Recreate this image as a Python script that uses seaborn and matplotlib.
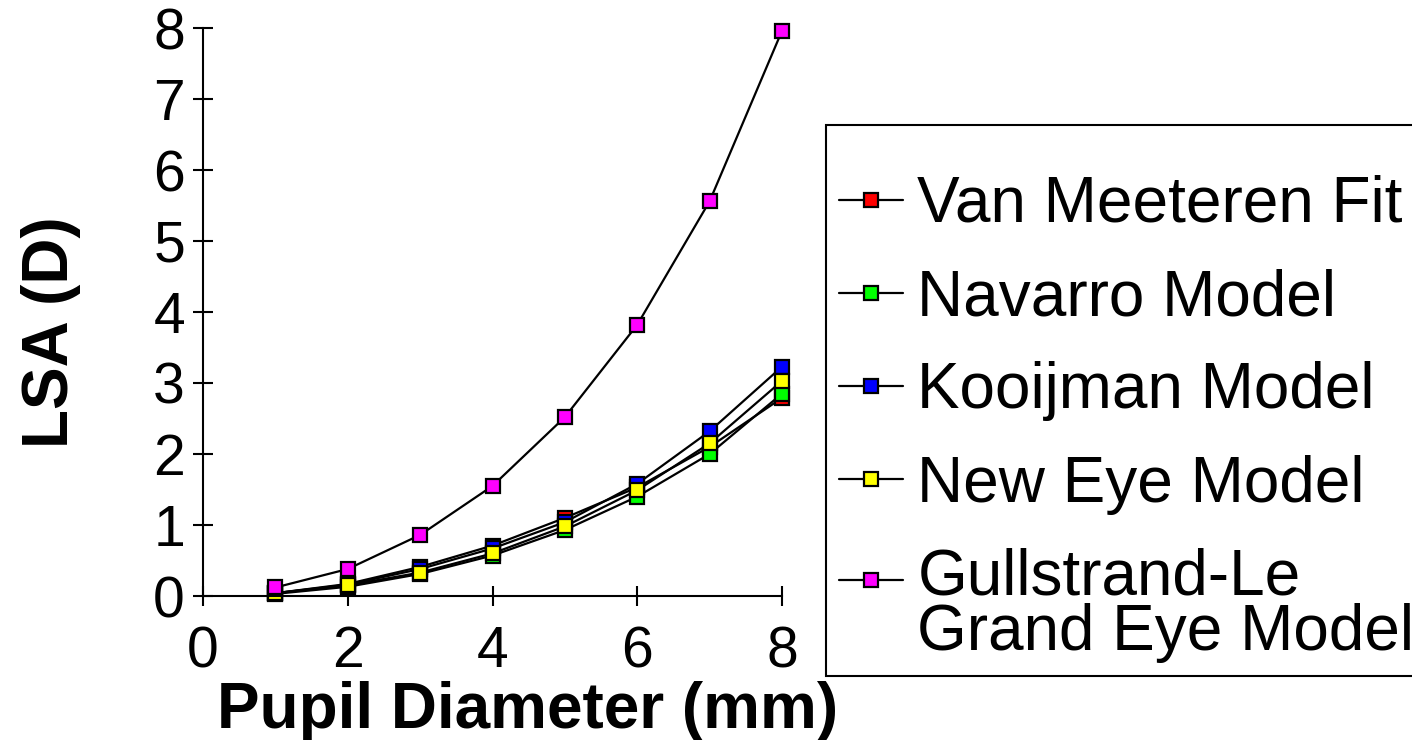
import matplotlib
matplotlib.use("Agg")
import matplotlib.pyplot as plt
import seaborn as sns
import pandas as pd
import numpy as np

# pupil diameter (mm)
diameters = [1, 2, 3, 4, 5, 6, 7, 8]

# LSA (D)
vanMeeteren = [0.04, 0.17, 0.41, 0.71, 1.10, 1.53, 2.10, 2.79]
navarro     = [0.03, 0.13, 0.31, 0.57, 0.93, 1.40, 2.00, 2.85]
kooijman    = [0.04, 0.16, 0.38, 0.67, 1.04, 1.58, 2.32, 3.23]
newEye      = [0.04, 0.15, 0.33, 0.60, 0.98, 1.49, 2.15, 3.03]
gullstrand  = [0.12, 0.38, 0.86, 1.55, 2.52, 3.82, 5.56, 7.96]

names  = ["Van Meeteren Fit", "Navarro Model", "Kooijman Model", "New Eye Model",
          "Gullstrand-Le\nGrand Eye Model"]
series = [vanMeeteren, navarro, kooijman, newEye, gullstrand]
colors = ["#ff0000", "#00ff00", "#0000ff", "#ffff00", "#ff00ff"]

sns.set_theme(style="ticks")
plt.rcParams['font.family'] = ['Liberation Sans', 'DejaVu Sans']
plt.rcParams['text.color'] = 'black'
plt.rcParams['axes.labelcolor'] = 'black'

f = plt.figure(figsize=(14.12, 7.4), dpi=100)
ax = f.add_axes([203/1412, 1 - 596/740, (782 - 203)/1412, (596 - 28)/740])

for name, vals, c in zip(names, series, colors):
  d = pd.DataFrame({'diameter': diameters, 'lsa': vals})
  sns.lineplot(x='diameter', y='lsa', data=d, ax=ax, color='black', linewidth=1.6,
               marker='s', markersize=10, markerfacecolor=c, markeredgecolor='black',
               markeredgewidth=1.6, label=name, clip_on=False)

ax.get_legend().remove()

ax.set_xlim(0, 8)
ax.set_ylim(0, 8)
ax.set_xticks([0, 2, 4, 6, 8])
ax.set_yticks(range(0, 9))
sns.despine(ax=ax)
for s in ['left', 'bottom']:
  ax.spines[s].set_linewidth(1.5)
  ax.spines[s].set_color('black')
ax.tick_params(direction='inout', length=14, width=1.5, colors='black', labelsize=41)
ax.tick_params(axis='x', pad=14)
ax.tick_params(axis='y', pad=6)

ax.set_xlabel("Pupil Diameter (mm)", fontsize=46, fontweight='bold')
ax.set_ylabel("LSA (D)", fontsize=46, fontweight='bold')
ax.xaxis.set_label_coords(0.56, -0.15)
ax.yaxis.set_label_coords(-0.21, 0.465)

handles, labels = ax.get_legend_handles_labels()
leg = f.legend(handles, labels, loc='upper left', bbox_to_anchor=(826/1412, 1 - 125/740),
               fontsize=46, frameon=True, fancybox=False, edgecolor='black', framealpha=1,
               handlelength=1.0, handletextpad=0.23, labelspacing=0.52, borderpad=0.2,
               borderaxespad=0, title=" ", title_fontsize=2.3)
leg.get_frame().set_linewidth(1.5)
for t in leg.get_texts():
  t.set_linespacing(0.9)
  t.set_color('black')

# two-line entry: put its handle next to the first line, as in the original
lastHandle = leg.legend_handles[-1]
lastHandle.set_ydata(np.asarray(lastHandle.get_ydata()) + 19)

plt.savefig('out.png', dpi=100)
plt.close()
